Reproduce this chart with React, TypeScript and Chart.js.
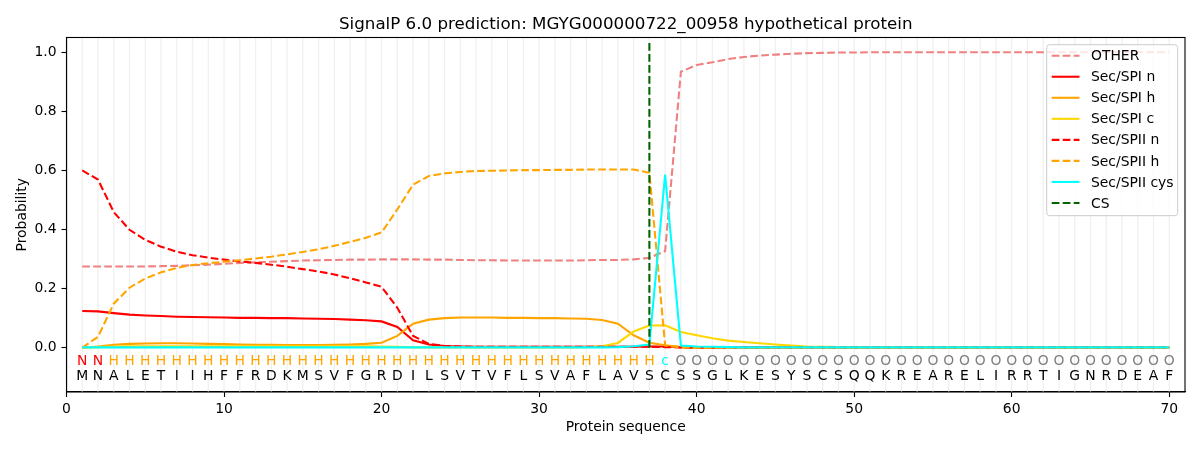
import { useEffect, useRef } from "react";
import Chart from "chart.js/auto";

// sequence and per-residue predicted region
const residues = "MNALETIIHFFRDKMSVFGRDILSVTVFLSVAFLAVSCSSGLKESYSCSQQKREARELIRRTIGNRDEAF".split("");
const regionLabels = ("NN" + "HHHHHHHHHH" + "HHHHHHHHHH" + "HHHHHHHHHH" + "HHHHH" + "c" + "OOOOOOOOOO" + "OOOOOOOOOO" + "OOOOOOOOOO" + "OO").split("");
const positions = residues.map((_, i) => i + 1);

const xTicks = [0, 10, 20, 30, 40, 50, 60, 70];
const yTicks = [0, 0.2, 0.4, 0.6, 0.8, 1.0];
const csPosition = 37;

const other = [
  0.275, 0.275, 0.275, 0.275, 0.275, 0.276, 0.277, 0.279, 0.281, 0.284,
  0.287, 0.289, 0.291, 0.293, 0.295, 0.296, 0.297, 0.298, 0.298, 0.299,
  0.299, 0.299, 0.298, 0.298, 0.297, 0.296, 0.296, 0.295, 0.295, 0.295,
  0.295, 0.295, 0.296, 0.297, 0.297, 0.299, 0.304, 0.327, 0.934, 0.957,
  0.966, 0.977, 0.984, 0.989, 0.992, 0.995, 0.997, 0.998, 0.999, 0.999,
  1.0, 1.0, 1.0, 1.0, 1.0, 1.0, 1.0, 1.0, 1.0, 1.0,
  1.0, 1.0, 1.0, 1.0, 1.0, 1.0, 1.0, 1.0, 1.0, 1.0,
];
const spiN = [
  0.124, 0.123, 0.117, 0.112, 0.109, 0.107, 0.105, 0.104, 0.103, 0.102,
  0.101, 0.101, 0.1, 0.1, 0.099, 0.098, 0.097, 0.095, 0.093, 0.089,
  0.07, 0.025, 0.011, 0.006, 0.004, 0.003, 0.003, 0.003, 0.003, 0.003,
  0.003, 0.003, 0.003, 0.003, 0.003, 0.003, 0.004, 0.004, 0.002, 0.001,
  0.001, 0.001, 0.001, 0.001, 0.001, 0.001, 0.001, 0.001, 0.001, 0.001,
  0.001, 0.001, 0.001, 0.001, 0.001, 0.001, 0.001, 0.001, 0.001, 0.001,
  0.001, 0.001, 0.001, 0.001, 0.001, 0.001, 0.001, 0.001, 0.001, 0.001,
];
const spiH = [
  0.0, 0.004, 0.01, 0.013, 0.014, 0.015, 0.015, 0.014, 0.013, 0.012,
  0.011, 0.01, 0.01, 0.009, 0.009, 0.009, 0.01, 0.011, 0.013, 0.017,
  0.04, 0.081, 0.095, 0.1, 0.102, 0.102, 0.102, 0.101, 0.101, 0.1,
  0.1, 0.099, 0.098, 0.094, 0.081, 0.042, 0.017, 0.008, 0.002, 0.0,
  0.0, 0.0, 0.0, 0.0, 0.0, 0.0, 0.0, 0.0, 0.0, 0.0,
  0.0, 0.0, 0.0, 0.0, 0.0, 0.0, 0.0, 0.0, 0.0, 0.0,
  0.0, 0.0, 0.0, 0.0, 0.0, 0.0, 0.0, 0.0, 0.0, 0.0,
];
const spiC = [
  0.0, 0.002, 0.004, 0.005, 0.005, 0.005, 0.005, 0.005, 0.005, 0.005,
  0.005, 0.005, 0.005, 0.005, 0.005, 0.005, 0.005, 0.005, 0.005, 0.004,
  0.003, 0.001, 0.001, 0.001, 0.001, 0.001, 0.001, 0.001, 0.001, 0.001,
  0.001, 0.001, 0.002, 0.005, 0.016, 0.055, 0.075, 0.076, 0.053, 0.042,
  0.032, 0.024, 0.019, 0.015, 0.011, 0.007, 0.004, 0.003, 0.002, 0.001,
  0.001, 0.001, 0.001, 0.001, 0.001, 0.001, 0.001, 0.001, 0.001, 0.001,
  0.001, 0.001, 0.001, 0.001, 0.001, 0.001, 0.001, 0.001, 0.001, 0.001,
];
const spiiN = [
  0.6, 0.569, 0.459, 0.399, 0.365, 0.342, 0.325, 0.313, 0.305, 0.298,
  0.292, 0.287, 0.281, 0.274, 0.266, 0.258, 0.248, 0.235, 0.221, 0.206,
  0.135, 0.04, 0.013, 0.006, 0.004, 0.003, 0.003, 0.003, 0.003, 0.003,
  0.003, 0.003, 0.003, 0.003, 0.003, 0.003, 0.003, 0.002, 0.001, 0.001,
  0.001, 0.001, 0.001, 0.001, 0.001, 0.001, 0.001, 0.001, 0.001, 0.001,
  0.001, 0.001, 0.001, 0.001, 0.001, 0.001, 0.001, 0.001, 0.001, 0.001,
  0.001, 0.001, 0.001, 0.001, 0.001, 0.001, 0.001, 0.001, 0.001, 0.001,
];
const spiiH = [
  0.0, 0.037, 0.149, 0.203, 0.234, 0.255, 0.27, 0.28, 0.286, 0.291,
  0.296, 0.302, 0.308, 0.316, 0.324, 0.333, 0.345, 0.358, 0.372, 0.39,
  0.468, 0.552, 0.581, 0.59, 0.595, 0.598, 0.599, 0.6, 0.601, 0.601,
  0.602, 0.602, 0.603, 0.603, 0.603, 0.603, 0.592, 0.007, 0.001, 0.0,
  0.0, 0.0, 0.0, 0.0, 0.0, 0.0, 0.0, 0.0, 0.0, 0.0,
  0.0, 0.0, 0.0, 0.0, 0.0, 0.0, 0.0, 0.0, 0.0, 0.0,
  0.0, 0.0, 0.0, 0.0, 0.0, 0.0, 0.0, 0.0, 0.0, 0.0,
];
const spiiCys = [
  0.001, 0.001, 0.001, 0.001, 0.001, 0.001, 0.001, 0.001, 0.001, 0.001,
  0.001, 0.001, 0.001, 0.001, 0.001, 0.001, 0.001, 0.001, 0.001, 0.001,
  0.001, 0.001, 0.001, 0.001, 0.001, 0.001, 0.001, 0.001, 0.001, 0.001,
  0.001, 0.001, 0.001, 0.001, 0.002, 0.005, 0.011, 0.586, 0.007, 0.004,
  0.003, 0.002, 0.001, 0.001, 0.001, 0.001, 0.001, 0.001, 0.001, 0.001,
  0.001, 0.001, 0.001, 0.001, 0.001, 0.001, 0.001, 0.001, 0.001, 0.001,
  0.001, 0.001, 0.001, 0.001, 0.001, 0.001, 0.001, 0.001, 0.001, 0.001,
];
const csSpan = [0, 1.04];

const FONT = "'DejaVu Sans', sans-serif";
const LW = 2.08;
const DASH = [7.7, 3.3];

const series = [
  { label: "OTHER", values: other, color: "#F08080", dash: true },
  { label: "Sec/SPI n", values: spiN, color: "#FF0000", dash: false },
  { label: "Sec/SPI h", values: spiH, color: "#FFA500", dash: false },
  { label: "Sec/SPI c", values: spiC, color: "#FFD700", dash: false },
  { label: "Sec/SPII n", values: spiiN, color: "#FF0000", dash: true },
  { label: "Sec/SPII h", values: spiiH, color: "#FFA500", dash: true },
  { label: "Sec/SPII cys", values: spiiCys, color: "#00FFFF", dash: false },
];

const regionColor: Record<string, string> = { N: "#FF0000", H: "#FFA500", c: "#00FFFF", O: "#808080" };

const decorPlugin = {
  id: "decor",
  beforeDatasetsDraw(chart: any) {
    const { ctx, chartArea, scales } = chart;
    const x = scales.x;
    const y = scales.y;
    ctx.save();
    // light vertical line at every residue
    ctx.strokeStyle = "#f0f0f0";
    ctx.lineWidth = 1.3;
    positions.forEach((p) => {
      const px = x.getPixelForValue(p);
      ctx.beginPath();
      ctx.moveTo(px, chartArea.top);
      ctx.lineTo(px, chartArea.bottom);
      ctx.stroke();
    });
    // region letters and sequence
    ctx.font = `13.9px ${FONT}`;
    ctx.textAlign = "center";
    ctx.textBaseline = "middle";
    const rowTop = y.getPixelForValue(-0.046);
    const rowBottom = y.getPixelForValue(-0.097);
    positions.forEach((p, i) => {
      const px = x.getPixelForValue(p);
      ctx.fillStyle = regionColor[regionLabels[i]];
      ctx.fillText(regionLabels[i], px, rowTop);
      ctx.fillStyle = "#000";
      ctx.fillText(residues[i], px, rowBottom);
    });
    ctx.restore();
  },
  afterDraw(chart: any) {
    const { ctx, chartArea } = chart;
    ctx.save();
    // frame
    ctx.strokeStyle = "#000";
    ctx.lineWidth = 1.1;
    ctx.strokeRect(chartArea.left, chartArea.top, chartArea.right - chartArea.left, chartArea.bottom - chartArea.top);

    // titles
    const cx = (chartArea.left + chartArea.right) / 2;
    ctx.fillStyle = "#000";
    ctx.textAlign = "center";
    ctx.font = `16.7px ${FONT}`;
    ctx.textBaseline = "alphabetic";
    ctx.fillText("SignalP 6.0 prediction: MGYG000000722_00958 hypothetical protein", cx, 29);
    ctx.font = `13.9px ${FONT}`;
    ctx.textBaseline = "middle";
    ctx.fillText("Protein sequence", cx, 427);
    ctx.save();
    ctx.translate(22, (chartArea.top + chartArea.bottom) / 2);
    ctx.rotate(-Math.PI / 2);
    ctx.fillText("Probability", 0, 0);
    ctx.restore();

    // legend
    const bx = 1046.7;
    const by = 44.7;
    const bw = 131;
    const bh = 171;
    ctx.beginPath();
    ctx.roundRect(bx, by, bw, bh, 3);
    ctx.fillStyle = "rgba(255,255,255,0.8)";
    ctx.fill();
    ctx.strokeStyle = "#cccccc";
    ctx.lineWidth = 1;
    ctx.stroke();
    const entries = [
      ...series.map((s) => ({ label: s.label, color: s.color, dash: s.dash })),
      { label: "CS", color: "#006400", dash: true },
    ];
    ctx.font = `13.9px ${FONT}`;
    ctx.textAlign = "left";
    ctx.textBaseline = "middle";
    entries.forEach((e, i) => {
      const ry = 55.7 + i * 21.04;
      ctx.beginPath();
      ctx.setLineDash(e.dash ? DASH : []);
      ctx.strokeStyle = e.color;
      ctx.lineWidth = LW;
      ctx.moveTo(1051.7, ry);
      ctx.lineTo(1079.5, ry);
      ctx.stroke();
      ctx.setLineDash([]);
      ctx.fillStyle = "#000";
      ctx.fillText(e.label, 1091, ry + 1);
    });
    ctx.restore();
  },
};

const App = () => {
  const canvasRef = useRef<HTMLCanvasElement>(null);

  useEffect(() => {
    const ctx = canvasRef.current!.getContext("2d")!;
    const n = series.length + 1;
    const datasets: any[] = series.map((s, i) => ({
      label: s.label,
      data: positions.map((p, j) => ({ x: p, y: s.values[j] })),
      borderColor: s.color,
      backgroundColor: s.color,
      borderWidth: LW,
      borderDash: s.dash ? DASH : [],
      pointRadius: 0,
      tension: 0,
      fill: false,
      order: n - i,
    }));
    datasets.push({
      label: "CS",
      data: csSpan.map((v) => ({ x: csPosition, y: v })),
      borderColor: "#006400",
      backgroundColor: "#006400",
      borderWidth: LW,
      borderDash: DASH,
      pointRadius: 0,
      fill: false,
      order: 1,
    });

    const tickFont = { family: FONT, size: 13.9 };
    const chart = new Chart(ctx, {
      type: "line",
      data: { datasets },
      options: {
        animation: false,
        responsive: true,
        maintainAspectRatio: false,
        layout: { padding: { top: 37.5, right: 15, bottom: 0, left: 0 } },
        plugins: {
          legend: { display: false },
          title: { display: false },
          tooltip: { enabled: false },
        },
        scales: {
          x: {
            type: "linear",
            min: 0,
            max: 71,
            afterBuildTicks: (scale: any) => {
              scale.ticks = xTicks.map((v) => ({ value: v }));
            },
            afterFit: (scale: any) => {
              scale.height = 58;
            },
            ticks: { font: tickFont, color: "#000", padding: 4, maxRotation: 0, autoSkip: false },
            grid: { drawOnChartArea: false, drawTicks: true, tickLength: 5, tickColor: "#000", tickWidth: 1.1 },
            border: { display: true, color: "#000", width: 1.1 },
          },
          y: {
            type: "linear",
            min: -0.15,
            max: 1.05,
            afterBuildTicks: (scale: any) => {
              scale.ticks = yTicks.map((v) => ({ value: v }));
            },
            afterFit: (scale: any) => {
              scale.width = 66.5;
            },
            ticks: {
              font: tickFont,
              color: "#000",
              padding: 5,
              callback: (v: any) => Number(v).toFixed(1),
            },
            grid: { drawOnChartArea: false, drawTicks: true, tickLength: 5, tickColor: "#000", tickWidth: 1.1 },
            border: { display: true, color: "#000", width: 1.1 },
          },
        },
      },
      plugins: [decorPlugin],
    });

    return () => { chart.destroy() };
  }, []);

  return (
    <div style={{ position: "absolute", left: 0, top: 0, width: 1200, height: 450, background: "#fff" }}>
      <canvas ref={canvasRef} />
    </div>
  );
};

export default App;
